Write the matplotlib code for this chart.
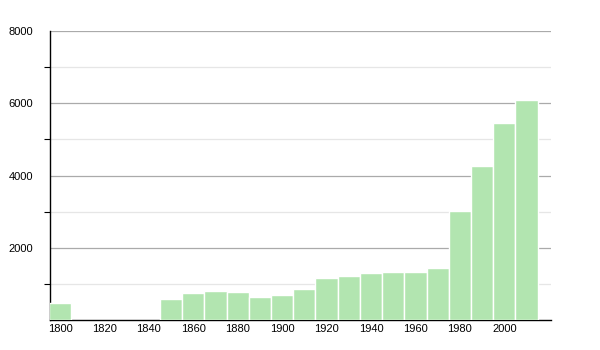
import matplotlib
matplotlib.use('Agg')
import matplotlib.pyplot as plt

plt.rcParams['font.family'] = ['Liberation Sans', 'DejaVu Sans']

# population by census year
years = [1800, 1850, 1860, 1870, 1880, 1890, 1900, 1910, 1920, 1930, 1940,
         1950, 1960, 1970, 1980, 1990, 2000, 2010]
population = [462, 582, 748, 803, 776, 646, 701, 850, 1163, 1219, 1293,
              1330, 1335, 1445, 3019, 4266, 5457, 6094]

x_ticks = list(range(1800, 2001, 20))
y_major = [2000, 4000, 6000, 8000]
y_minor = [1000, 3000, 5000, 7000]

fig = plt.figure(figsize=(6, 3.5), dpi=100)
ax = fig.add_axes([50 / 600, 30 / 350, 501 / 600, 289 / 350])

ax.bar(years, population, width=10, color='#b2e5b0', edgecolor='white',
       linewidth=1, zorder=3)

ax.set_xlim(1795.5, 2021)
ax.set_ylim(0, 8000)
ax.set_xticks(x_ticks)
ax.set_yticks(y_major)
ax.set_yticks(y_minor, minor=True)

ax.grid(axis='y', which='major', color='#aaaaaa', linewidth=0.9, zorder=0)
ax.grid(axis='y', which='minor', color='#e6e6e6', linewidth=0.9, zorder=0)

for s in ['top', 'right']:
    ax.spines[s].set_visible(False)
ax.spines['left'].set_linewidth(1)
ax.spines['bottom'].set_linewidth(1)

ax.tick_params(axis='x', length=0, labelsize=8, pad=3)
ax.tick_params(axis='y', which='major', length=0, labelsize=8, pad=12)
ax.tick_params(axis='y', which='minor', length=4, width=0.8)

fig.savefig('out.png', dpi=100)
